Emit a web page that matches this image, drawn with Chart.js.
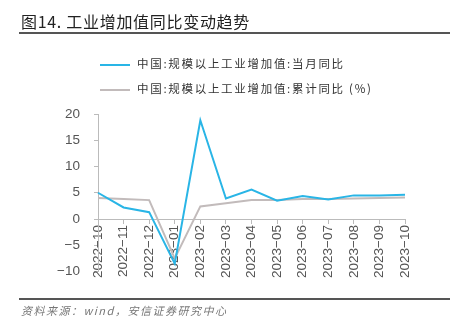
<!DOCTYPE html>
<html>
<head>
<meta charset="utf-8">
<script src="https://cdn.jsdelivr.net/npm/chart.js@4"></script>
<style>
  html, body { margin: 0; padding: 0; background: #fff; }
  #wrap { position: relative; width: 459px; height: 328px; overflow: hidden; }
  #chart { position: absolute; left: 0; top: 0; }
  .title { position: absolute; left: 21px; top: 9px; font: 16px "Noto Sans CJK SC", sans-serif; color: #222; letter-spacing: 0.7px; }
  .rule { position: absolute; left: 19px; width: 431px; height: 2px; background: #555; }
  .legend { position: absolute; left: 100px; font: 11.5px "Noto Sans CJK SC", sans-serif; color: #333; letter-spacing: 1.7px; }
  .legend span { display: inline-block; width: 30px; height: 2px; vertical-align: middle; margin-right: 7px; }
  .note { position: absolute; left: 21px; top: 302px; font: italic 11px "Noto Sans CJK SC", sans-serif; color: #777; letter-spacing: 1.5px; }
</style>
</head>
<body>
<div id="wrap">
  <canvas id="chart" width="459" height="328"></canvas>
  <div class="title">图14. 工业增加值同比变动趋势</div>
  <div class="rule" style="top:32px"></div>
  <div class="legend" style="top:55px"><span style="background:#29b5e6"></span>中国:规模以上工业增加值:当月同比</div>
  <div class="legend" style="top:80px"><span style="background:#c2bbbb"></span>中国:规模以上工业增加值:累计同比 (%)</div>
  <div class="rule" style="top:298px"></div>
  <div class="note">资料来源：wind，安信证券研究中心</div>
</div>
<script>
var months = ["2022-10", "2022-11", "2022-12", "2023-01", "2023-02", "2023-03", "2023-04",
              "2023-05", "2023-06", "2023-07", "2023-08", "2023-09", "2023-10"];
var monthlyYoY = [5.0, 2.2, 1.3, -8.5, 18.8, 3.9, 5.6, 3.5, 4.4, 3.7, 4.5, 4.5, 4.6];
var ytdYoY = [4.0, 3.8, 3.6, -7.5, 2.4, 3.0, 3.6, 3.6, 3.8, 3.8, 3.9, 4.0, 4.1];
var yTicks = [-10, -5, 0, 5, 10, 15, 20];

var axisColor = "#bbbbbb";
var tickColor = "#555555";

new Chart(document.getElementById("chart"), {
  type: "line",
  data: {
    labels: months,
    datasets: [{
      label: "中国:规模以上工业增加值:当月同比",
      data: monthlyYoY,
      borderColor: "#29b5e6",
      borderWidth: 2,
      pointRadius: 0,
      tension: 0
    }, {
      label: "中国:规模以上工业增加值:累计同比 (%)",
      data: ytdYoY,
      borderColor: "#c2bbbb",
      borderWidth: 2,
      pointRadius: 0,
      tension: 0
    }]
  },
  options: {
    responsive: false,
    animation: false,
    layout: { padding: { left: 0, right: 54, top: 114, bottom: 56.5 } },
    plugins: {
      legend: { display: false },
      tooltip: { enabled: false }
    },
    scales: {
      x: {
        position: { y: 0 },
        grid: { display: true, drawOnChartArea: false, color: axisColor, tickLength: 4 },
        border: { color: axisColor, width: 1 },
        ticks: {
          autoSkip: false,
          minRotation: 90,
          maxRotation: 90,
          padding: 2,
          color: tickColor,
          font: { size: 13.5, family: "'Liberation Sans', Arial, sans-serif" },
          callback: function(v, i) { return months[i].replace("-", "\u2212"); }
        }
      },
      y: {
        min: yTicks[0],
        max: yTicks[yTicks.length - 1],
        afterFit: function(scale) { scale.width = 98; },
        afterBuildTicks: function(scale) {
          scale.ticks = yTicks.map(function(v) { return { value: v }; });
        },
        grid: { display: true, drawOnChartArea: false, color: axisColor, tickLength: 4 },
        border: { color: axisColor, width: 1 },
        ticks: {
          padding: 14,
          color: tickColor,
          font: { size: 13.5, family: "'Liberation Sans', Arial, sans-serif" },
          callback: function(v) { return String(v).replace("-", "\u2212"); }
        }
      }
    }
  }
});
</script>
</body>
</html>
